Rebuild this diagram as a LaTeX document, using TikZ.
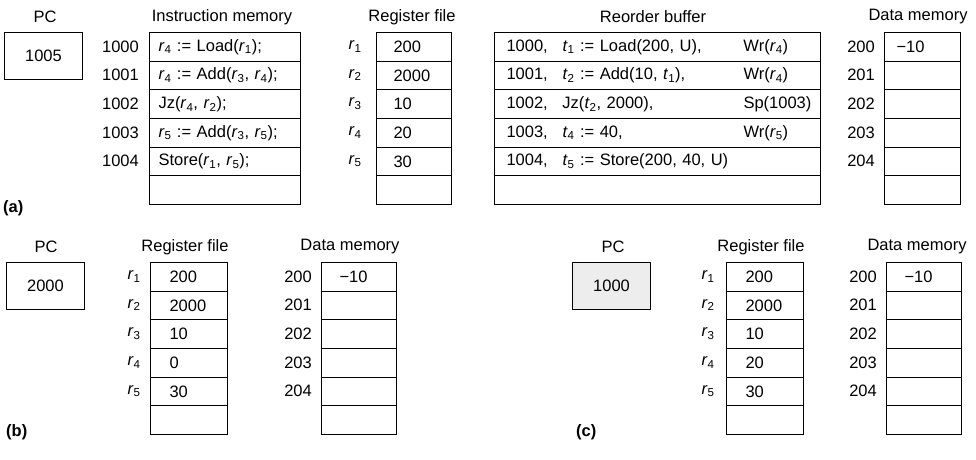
\documentclass[tikz,border=0pt]{standalone}
\usepackage{fontspec}
\setmainfont{Liberation Sans}
\newcommand\rr[1]{\textit{r}\textsubscript{#1}}
\newcommand\tv[1]{\textit{t}\textsubscript{#1}}
\begin{document}
\begin{tikzpicture}[x=1pt,y=-1pt,
  font=\fontsize{16.5}{19}\selectfont,
  every node/.style={inner sep=0pt},
  cell/.style={draw, line width=1pt, anchor=north west, minimum height=28.67pt, inner ysep=0pt, align=left},
  imcell/.style={cell, text width=133pt, inner xsep=9pt},
  rfcell/.style={cell, text width=41pt, inner xsep=17pt},
  rfcellb/.style={cell, text width=39pt, inner xsep=19pt},
  dmcell/.style={cell, text width=52pt, inner xsep=12pt},
  dmcellb/.style={cell, text width=39pt, inner xsep=18pt},
  robcell/.style={cell, text width=302pt, inner xsep=12pt},
  pcbox/.style={draw, line width=1pt, anchor=north west, minimum width=78pt, minimum height=47pt},
  head/.style={anchor=center},
  addr/.style={anchor=east},
  reg/.style={anchor=center},
  tag/.style={anchor=west, font=\fontsize{16.5}{19}\selectfont\bfseries}]
\useasboundingbox (0,0) rectangle (976,459);

% ---------------- (a) ----------------
\node[head] (pcah) at (45,17) {PC};
\node[pcbox] (pca) at (4,32) {1005};
\node[head] (imh) at (222,17) {Instruction memory};
\node[head] (rfah) at (412,17) {Register file};
\node[head] (robh) at (653,17) {Reorder buffer};
\node[head] (dmah) at (918,17) {Data memory};

\foreach \i/\a/\t in {1/1000/{\rr4 := Load(\rr1);},
                      2/1001/{\rr4 := Add(\rr3, \rr4);},
                      3/1002/{Jz(\rr4, \rr2);},
                      4/1003/{\rr5 := Add(\rr3, \rr5);},
                      5/1004/{Store(\rr1, \rr5);},
                      6//{}}{
  \node[imcell] (im\i) at (149,{32+28.67*(\i-1)}) {\t};
  \node[addr] (ima\i) at (139,{32+28.67*(\i-0.5)}) {\a};
}
\foreach \i/\r/\v in {1/1/200, 2/2/2000, 3/3/10, 4/4/20, 5/5/30, 6//}{
  \node[rfcell] (rfa\i) at (376,{32+28.67*(\i-1)}) {\v};
}
\foreach \i in {1,...,5}{
  \node[reg] (rfal\i) at (355,{32+28.67*(\i-0.5)}) {\rr{\i}};
}
\foreach \i/\a/\b/\c in {1/{1000,}/{\tv1 := Load(200, U),}/{Wr(\rr4)},
                         2/{1001,}/{\tv2 := Add(10, \tv1),}/{Wr(\rr4)},
                         3/{1002,}/{Jz(\tv2, 2000),}/{Sp(1003)},
                         4/{1003,}/{\tv4 := 40,}/{Wr(\rr5)},
                         5/{1004,}/{\tv5 := Store(200, 40, U)}/{}}{
  \node[robcell] (rob\i) at (494,{32+28.67*(\i-1)}) {\makebox[56pt][l]{\a}\makebox[181pt][l]{\b}\c};
}
\node[robcell] (rob6) at (494,{32+28.67*5}) {};
\foreach \i/\a/\v in {1/200/−10, 2/201/, 3/202/, 4/203/, 5/204/, 6//}{
  \node[dmcell] (dma\i) at (884,{32+28.67*(\i-1)}) {\v};
  \node[addr] (dmaa\i) at (875,{32+28.67*(\i-0.5)}) {\a};
}
\node[tag] (taga) at (3,208) {(a)};

% ---------------- (b) ----------------
\node[head] (pcbh) at (46,247) {PC};
\node[pcbox] (pcb) at (6,262) {2000};
\node[head] (rfbh) at (185,247) {Register file};
\node[head] (dmbh) at (350,247) {Data memory};
\foreach \i/\v in {1/200, 2/2000, 3/10, 4/0, 5/30, 6/}{
  \node[rfcellb] (rfb\i) at (150,{262+28.67*(\i-1)}) {\v};
}
\foreach \i in {1,...,5}{
  \node[reg] (rfbl\i) at (134,{262+28.67*(\i-0.5)}) {\rr{\i}};
}
\foreach \i/\a/\v in {1/200/−10, 2/201/, 3/202/, 4/203/, 5/204/, 6//}{
  \node[dmcellb] (dmb\i) at (321,{262+28.67*(\i-1)}) {\v};
  \node[addr] (dmba\i) at (312,{262+28.67*(\i-0.5)}) {\a};
}
\node[tag] (tagb) at (6,432) {(b)};

% ---------------- (c) ----------------
\node[head] (pcch) at (613,247) {PC};
\node[pcbox, fill=black!7] (pcc) at (572,262) {1000};
\node[head] (rfch) at (761,247) {Register file};
\node[head] (dmch) at (917,247) {Data memory};
\foreach \i/\v in {1/200, 2/2000, 3/10, 4/20, 5/30, 6/}{
  \node[rfcellb] (rfc\i) at (726,{262+28.67*(\i-1)}) {\v};
}
\foreach \i in {1,...,5}{
  \node[reg] (rfcl\i) at (708,{262+28.67*(\i-0.5)}) {\rr{\i}};
}
\foreach \i/\a/\v in {1/200/−10, 2/201/, 3/202/, 4/203/, 5/204/, 6//}{
  \node[dmcellb] (dmc\i) at (886,{262+28.67*(\i-1)}) {\v};
  \node[addr] (dmca\i) at (877,{262+28.67*(\i-0.5)}) {\a};
}
\node[tag] (tagc) at (576,432) {(c)};
\end{tikzpicture}
\end{document}
